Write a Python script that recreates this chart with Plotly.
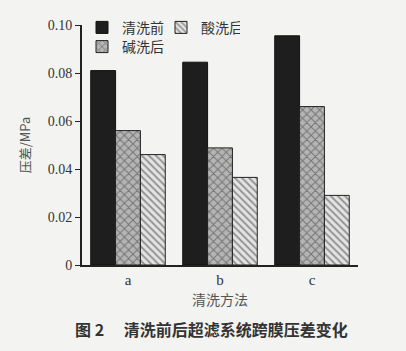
import plotly.graph_objects as go

categories = ["a", "b", "c"]
before = [0.081, 0.0845, 0.0955]
after_alkali = [0.056, 0.0488, 0.066]
after_acid = [0.046, 0.0365, 0.029]
tick_vals = [0, 0.02, 0.04, 0.06, 0.08, 0.10]
tick_text = ["0", "0.02", "0.04", "0.06", "0.08", "0.10"]

serif = "Liberation Serif, DejaVu Serif, serif"
cjk = "Noto Sans CJK SC"

fig = go.Figure()
fig.add_trace(go.Bar(
    x=categories, y=before, name="清洗前",
    marker=dict(color="#1e1e1e", line=dict(color="#111", width=1)),
    legend="legend",
))
fig.add_trace(go.Bar(
    x=categories, y=after_alkali, name="碱洗后",
    marker=dict(color="#9a9a9a", line=dict(color="#222", width=1),
                pattern=dict(shape="x", fgcolor="#333", bgcolor="#b5b5b5", size=6, solidity=0.3)),
    legend="legend2",
))
fig.add_trace(go.Bar(
    x=categories, y=after_acid, name="酸洗后",
    marker=dict(color="#d8d8d8", line=dict(color="#222", width=1),
                pattern=dict(shape="\\", fgcolor="#444", bgcolor="#e4e4e4", size=5, solidity=0.4)),
    legend="legend",
))

bg = "#f3f3f1"
fig.update_layout(
    width=406, height=351,
    margin=dict(l=82, r=48, t=25, b=86),
    paper_bgcolor=bg, plot_bgcolor=bg,
    barmode="group", bargap=0.19, bargroupgap=0,
    font=dict(family=serif, color="#333", size=14),
    legend=dict(orientation="h", x=0.0, y=1.055, xanchor="left", yanchor="top",
                bgcolor="rgba(0,0,0,0)", font=dict(family=cjk, size=14, color="#333"),
                itemwidth=30, entrywidth=34, tracegroupgap=0),
    legend2=dict(orientation="h", x=0.0, y=0.975, xanchor="left", yanchor="top",
                 bgcolor="rgba(0,0,0,0)", font=dict(family=cjk, size=14, color="#333"),
                 itemwidth=30),
    xaxis=dict(showline=True, linecolor="#222", linewidth=2, ticks="",
               tickfont=dict(family=serif, size=15, color="#333"),
               title=dict(text="清洗方法", font=dict(family=cjk, size=14, color="#555"), standoff=8)),
    yaxis=dict(range=[0, 0.1], tickvals=tick_vals, ticktext=tick_text,
               showline=True, linecolor="#222", linewidth=2, ticks="outside", ticklen=5,
               tickcolor="#222", showgrid=False, zeroline=False,
               tickfont=dict(family=serif, size=14, color="#333"),
               title=dict(text="压差/MPa", font=dict(family=cjk, size=13, color="#555"), standoff=14)),
)
fig.add_annotation(text="<b>图 2　 清洗前后超滤系统跨膜压差变化</b>", xref="paper", yref="paper",
                   x=0.47, y=-0.265, yanchor="middle", xanchor="center", showarrow=False,
                   font=dict(family=cjk, size=16, color="#333"))

fig.write_html("out.html")
